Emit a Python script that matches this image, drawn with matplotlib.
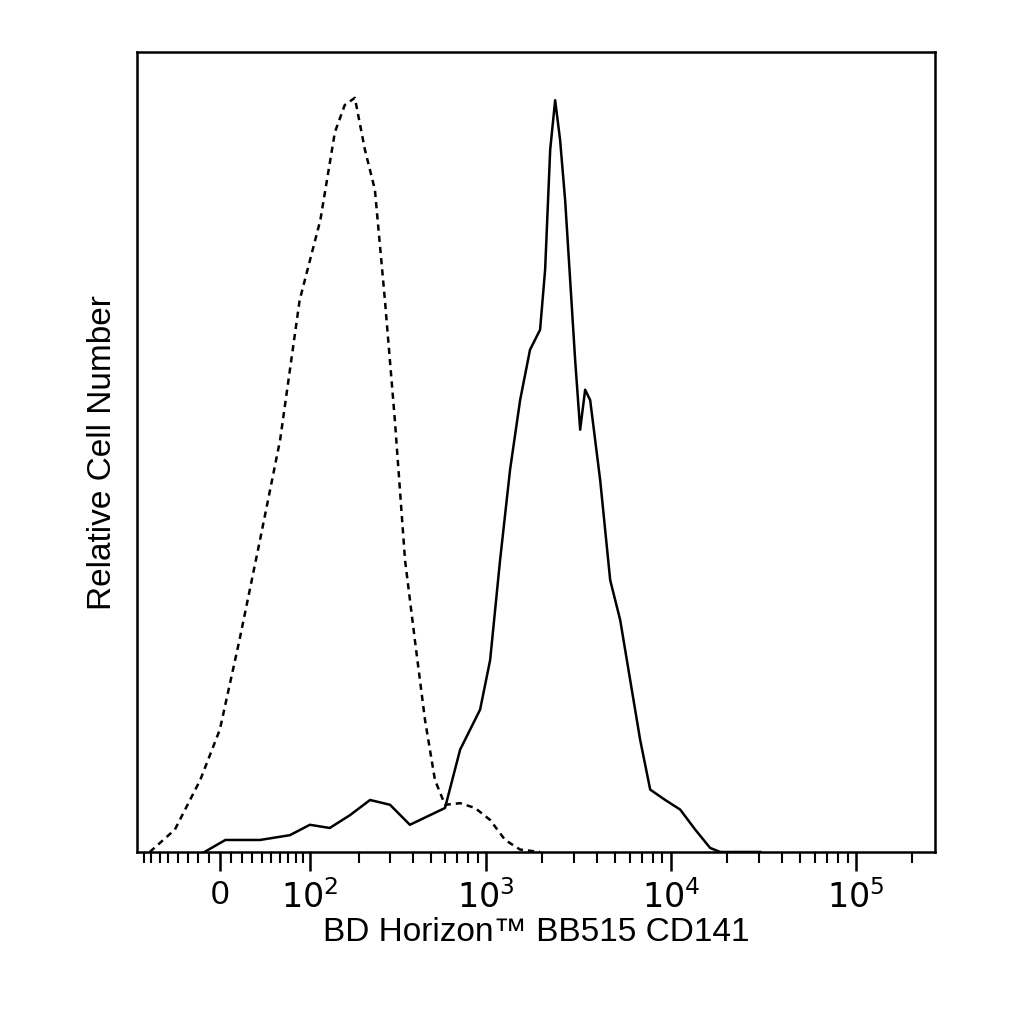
import numpy as np
import matplotlib
matplotlib.use("Agg")
import matplotlib.pyplot as plt

# fluorescence values and relative counts (% of axis height)
iso_x = [-72, -43, -18, 0, 18, 38, 60, 85, 117, 144, 165, 189, 216, 246, 280, 318,
         362, 410, 466, 528, 599, 724, 873, 1053, 1269, 1530, 1962]
iso_y = [0, 2.8, 9, 15.3, 26.5, 39, 51.5, 69, 79, 90, 93.4, 94.3, 87.8, 82.8, 69, 54,
         36.5, 26.5, 16.5, 9, 5.9, 6.1, 5.5, 4, 1.5, 0.3, 0]

cd141_x = [-14, 5, 38, 72, 100, 134, 177, 231, 299, 385, 496, 599, 724, 929, 1053,
           1192, 1350, 1530, 1731, 1962, 2089, 2225, 2367, 2518, 2680, 2853, 3036,
           3231, 3438, 3660, 4145, 4695, 5318, 6022, 6820, 7725, 9313, 11220, 13520,
           16290, 18470, 30400]
cd141_y = [0, 1.5, 1.5, 2.1, 3.4, 3, 4.6, 6.5, 5.9, 3.4, 4.6, 5.5, 12.8, 17.8, 24,
           36.5, 47.8, 56.5, 62.8, 65.3, 72.8, 87.8, 94, 89, 81.5, 71.5, 61.5, 52.8,
           57.8, 56.5, 46.5, 34, 29, 21.5, 14, 7.8, 6.5, 5.3, 2.8, 0.5, 0, 0]

C = 73.0
XMIN, XMAX = -89, 267000


def fwd(x):
    return np.arcsinh(np.asarray(x) / C)


def inv(y):
    return C * np.sinh(np.asarray(y))


plt.rcParams["font.family"] = ["Liberation Sans", "DejaVu Sans"]
fig = plt.figure(figsize=(10.24, 10.24), dpi=100)
ax = fig.add_axes([0.134, 0.168, 0.779, 0.781])
ax.set_xscale("function", functions=(fwd, inv))

ax.plot(iso_x, iso_y, color="black", lw=1.8, ls=(0, (2.5, 2)))
ax.plot(cd141_x, cd141_y, color="black", lw=1.8)

major = [0, 1e2, 1e3, 1e4, 1e5]
minor = [-k * 10 for k in range(1, 9)] + [k * 10 for k in range(1, 10)]
for e in range(2, 6):
    minor += [k * 10 ** e for k in range(2, 10)]
minor = [m for m in minor if XMIN < m < XMAX]
ax.set_xticks(major)
ax.set_xticklabels(["0", "$10^2$", "$10^3$", "$10^4$", "$10^5$"], fontsize=24)
ax.set_xticks(minor, minor=True)
ax.set_xlim(XMIN, XMAX)
ax.set_ylim(0, 100)
ax.set_yticks([])
ax.tick_params(axis="x", which="major", direction="out", length=14, width=1.8, pad=6)
ax.tick_params(axis="x", which="minor", direction="out", length=8, width=1.5)
for s in ax.spines.values():
    s.set_linewidth(1.8)

ax.set_xlabel("BD Horizon™ BB515 CD141", fontsize=24, labelpad=2)
ax.set_ylabel("Relative Cell Number", fontsize=24, labelpad=14)

fig.savefig("out.png", dpi=100)
